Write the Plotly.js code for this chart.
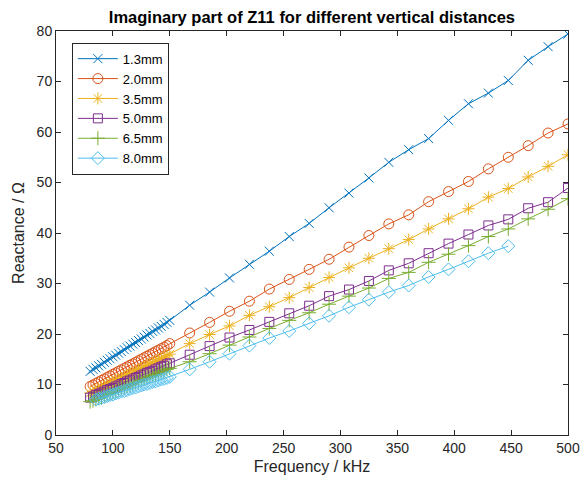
<!DOCTYPE html>
<html>
<head>
<meta charset="utf-8">
<script src="https://cdn.plot.ly/plotly-3.0.1.min.js"></script>
<style>html,body{margin:0;padding:0;background:#fff;}#chart{width:582px;height:486px;}</style>
</head>
<body>
<div id="chart"></div>
<script>
// Frequencies (kHz)
const freqDense = [80,82.5,85,87.5,90,92.5,95,97.5,100,102.5,105,107.5,110,112.5,115,117.5,120,122.5,125,127.5,130,132.5,135,137.5,140,142.5,145,147.5,150];
const freqSparse = [167.5,185,202.5,220,237.5,255,272.5,290,307.5,325,342.5,360,377.5,395,412.5,430,447.5,465,482.5,500];
const freqDenseCyan = [85,87.5,90,92.5,95,97.5,100,102.5,105,107.5,110,112.5,115,117.5,120,122.5,125,127.5,130,132.5,135,137.5,140,142.5,145,147.5,150];
const freqSparseCyan = [167.5,185,202.5,220,237.5,255,272.5,290,307.5,325,342.5,360,377.5,395,412.5,430,447.5];

const seriesNames = ["1.3mm","2.0mm","3.5mm","5.0mm","6.5mm","8.0mm"];

// Reactance (Ohm)
const x13Dense = [12.6,13.0,13.3,13.7,14.0,14.4,14.8,15.1,15.5,15.8,16.2,16.5,16.9,17.3,17.6,18.0,18.3,18.7,19.0,19.4,19.8,20.1,20.5,20.8,21.2,21.5,21.9,22.3,22.7];
const x13Sparse = [25.7,28.3,31.1,33.8,36.4,39.3,41.9,45.0,47.9,50.9,54.0,56.5,58.7,62.3,65.6,67.7,70.2,74.2,76.9,79.4];
const x20Dense = [9.6,9.9,10.2,10.5,10.8,11.1,11.4,11.7,12.0,12.3,12.6,12.9,13.2,13.5,13.8,14.1,14.4,14.7,15.0,15.3,15.6,15.9,16.2,16.5,16.8,17.1,17.4,17.7,18.1];
const x20Sparse = [20.2,22.3,24.5,26.5,28.9,30.8,32.8,34.8,37.2,39.5,41.8,43.6,46.2,48.2,50.2,52.7,55.0,57.3,59.8,61.6];
const x35Dense = [8.3,8.6,8.8,9.1,9.4,9.7,9.9,10.2,10.5,10.8,11.0,11.3,11.6,11.9,12.1,12.4,12.7,13.0,13.2,13.5,13.8,14.1,14.3,14.6,14.9,15.2,15.4,15.7,16.0];
const x35Sparse = [18.1,19.9,21.6,23.7,25.4,27.2,29.2,31.2,33.1,35.0,36.9,38.7,40.8,42.8,44.8,47.1,48.8,51.1,53.2,55.5];
const x50Dense = [7.4,7.6,7.9,8.1,8.4,8.6,8.9,9.1,9.3,9.6,9.8,10.1,10.3,10.6,10.8,11.0,11.3,11.5,11.8,12.0,12.3,12.5,12.7,13.0,13.2,13.5,13.7,14.0,14.2];
const x50Sparse = [15.9,17.6,19.3,20.8,22.4,24.1,25.6,27.5,28.8,30.5,32.6,34.0,36.0,37.9,39.7,41.5,42.7,44.9,46.1,48.9];
const x65Dense = [6.6,6.8,7.1,7.3,7.5,7.8,8.0,8.2,8.5,8.7,9.0,9.2,9.4,9.7,9.9,10.1,10.4,10.6,10.8,11.1,11.3,11.6,11.8,12.0,12.3,12.5,12.7,13.0,13.2];
const x65Sparse = [14.5,16.1,17.8,19.4,21.1,22.7,24.2,25.9,27.5,29.1,31.0,32.2,34.2,35.8,37.5,39.3,40.8,42.8,44.7,46.8];
const x80Dense = [7.0,7.2,7.3,7.5,7.7,7.9,8.0,8.2,8.4,8.6,8.7,8.9,9.1,9.3,9.4,9.6,9.8,10.0,10.1,10.3,10.5,10.6,10.8,11.0,11.1,11.3,11.5];
const x80Sparse = [13.0,14.5,16.1,17.7,19.2,20.6,22.1,23.6,25.3,26.8,28.3,29.6,31.3,32.8,34.4,36.0,37.4];

const xTicks = [50,100,150,200,250,300,350,400,450,500];
const yTicks = [0,10,20,30,40,50,60,70,80];

const colors = ["#0072BD","#D95319","#EDB120","#7E2F8E","#77AC30","#4DBEEE"];
const symbols = ["x-thin-open","circle-open","asterisk-open","square-open","cross-thin-open","diamond-open"];
const sizes = [9,10,10,9,10,10];

const xs = [
  freqDense.concat(freqSparse), freqDense.concat(freqSparse), freqDense.concat(freqSparse),
  freqDense.concat(freqSparse), freqDense.concat(freqSparse), freqDenseCyan.concat(freqSparseCyan)
];
const ys = [
  x13Dense.concat(x13Sparse), x20Dense.concat(x20Sparse), x35Dense.concat(x35Sparse),
  x50Dense.concat(x50Sparse), x65Dense.concat(x65Sparse), x80Dense.concat(x80Sparse)
];

const traces = seriesNames.map((n, i) => ({
  type: "scatter", mode: "lines+markers", name: n,
  x: xs[i], y: ys[i],
  line: {color: colors[i], width: 1},
  marker: {symbol: symbols[i], size: sizes[i], color: colors[i], line: {color: colors[i], width: 1}}
}));

const axisCommon = {
  showline: true, linecolor: "#262626", linewidth: 1, mirror: "allticks",
  ticks: "inside", ticklen: 5, tickcolor: "#262626", tickwidth: 1,
  showgrid: false, zeroline: false,
  tickfont: {family: "Liberation Sans, Arial, sans-serif", size: 14, color: "#262626"}
};

const layout = {
  width: 582, height: 486,
  paper_bgcolor: "#ffffff", plot_bgcolor: "#ffffff",
  margin: {l: 56, r: 14, t: 31, b: 51},
  title: {text: "Imaginary part of Z11 for different vertical distances",
    font: {family: "Liberation Sans, Arial, sans-serif", size: 16.5, color: "#000000", weight: "bold"},
    x: 0.536, xanchor: "center", y: 0.965, yanchor: "middle"},
  xaxis: Object.assign({}, axisCommon, {range: [50, 500], tickvals: xTicks,
    title: {text: "Frequency / kHz", font: {family: "Liberation Sans, Arial, sans-serif", size: 16, color: "#262626"}, standoff: 6}}),
  yaxis: Object.assign({}, axisCommon, {range: [0, 80], tickvals: yTicks,
    title: {text: "Reactance / Ω", font: {family: "Liberation Sans, Arial, sans-serif", size: 16, color: "#262626"}, standoff: 8}}),
  showlegend: true,
  legend: {x: 0.031, y: 0.971, xanchor: "left", yanchor: "top",
    bgcolor: "#ffffff", bordercolor: "#262626", borderwidth: 1,
    font: {family: "Liberation Sans, Arial, sans-serif", size: 13, color: "#000000"},
    tracegroupgap: 0, itemwidth: 40}
};

Plotly.newPlot("chart", traces, layout, {staticPlot: true, displayModeBar: false});
</script>
</body>
</html>
